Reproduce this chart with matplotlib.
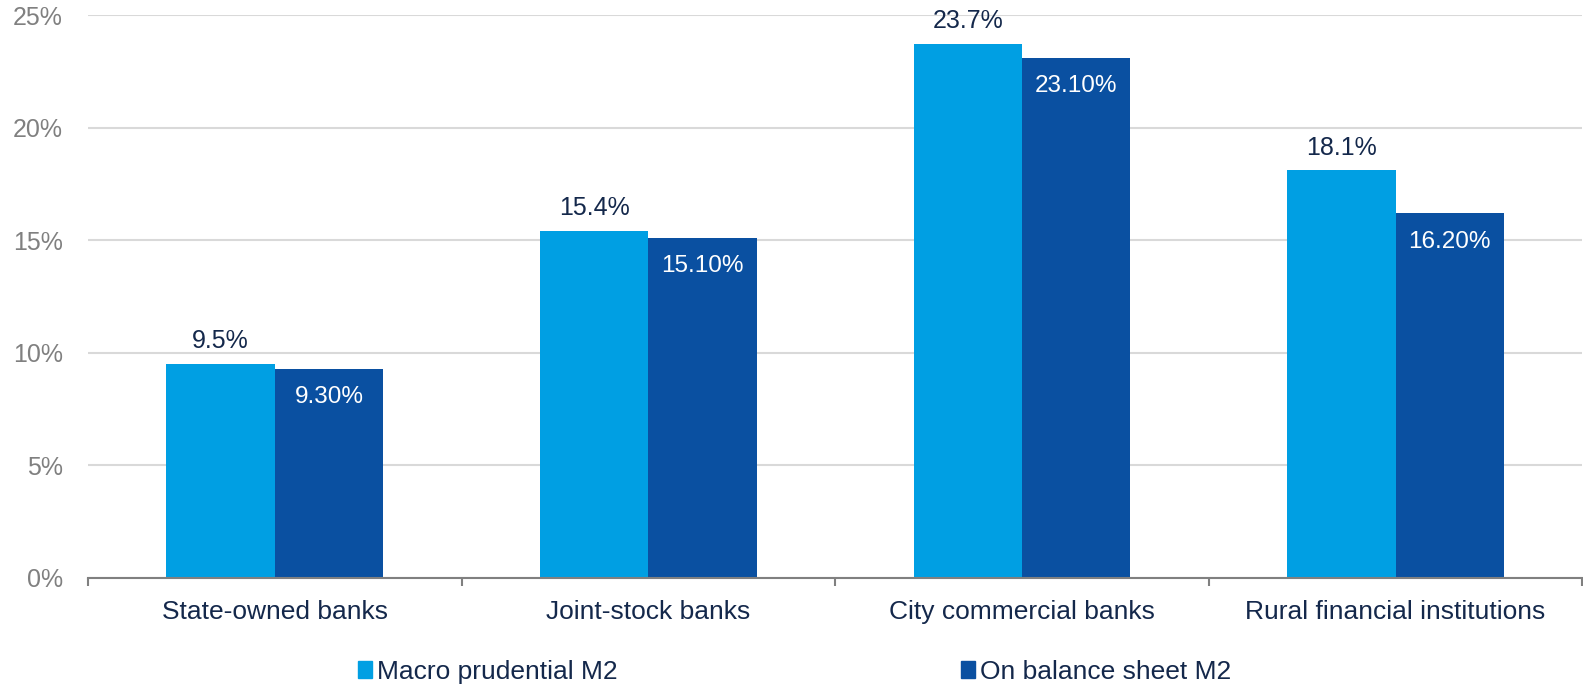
import numpy as np
import matplotlib.pyplot as plt
from matplotlib.patches import Patch

###############################################################################
# datos
###############################################################################
categorias = ["State-owned banks", "Joint-stock banks",
              "City commercial banks", "Rural financial institutions"]
macro = [9.5, 15.4, 23.7, 18.1]
balance = [9.3, 15.1, 23.1, 16.2]
etiq_macro = ["9.5%", "15.4%", "23.7%", "18.1%"]
etiq_balance = ["9.30%", "15.10%", "23.10%", "16.20%"]
yticks = [0, 5, 10, 15, 20, 25]

c_claro = "#009FE3"
c_oscuro = "#0A50A1"
c_texto = "#14284B"
c_gris = "#808080"

plt.rcParams['font.family'] = ['Liberation Sans', 'DejaVu Sans']

###############################################################################
fig = plt.figure(figsize=(15.83, 6.84), dpi=100)
ax = fig.add_axes([0.0556, 0.155, 0.944, 0.823])

x = np.arange(len(categorias))
w = 0.29
b1 = ax.bar(x - w/2, macro, w, color=c_claro, zorder=3)
b2 = ax.bar(x + w/2, balance, w, color=c_oscuro, zorder=3)

# etiquetas de valor
for r, t in zip(b1, etiq_macro):
    ax.annotate(t, (r.get_x() + r.get_width()/2, r.get_height()),
                xytext=(0, 16.5), textcoords="offset points", ha="center",
                va="center", fontsize=18, color=c_texto)
for r, t in zip(b2, etiq_balance):
    ax.annotate(t, (r.get_x() + r.get_width()/2, r.get_height()),
                xytext=(0, -20.5), textcoords="offset points", ha="center",
                va="center", fontsize=17.5, color="white")

ax.set_ylim(0, 25)
ax.set_xlim(-0.5, 3.5)
ax.set_yticks(yticks)
ax.set_yticklabels([f"{v}%" for v in yticks], fontsize=18, color=c_gris)
ax.tick_params(axis="y", length=0, pad=18)
ax.grid(axis="y", color="#D9D9D9", linewidth=1.5, zorder=0)

ax.set_xticks(np.arange(-0.5, 4, 1))
ax.set_xticklabels([])
ax.set_xticks(x, minor=True)
ax.set_xticklabels(categorias, minor=True, fontsize=19, color=c_texto)
ax.tick_params(axis="x", which="major", length=6, color=c_gris, width=1.5)
ax.tick_params(axis="x", which="minor", length=0, pad=16)

for s in ["top", "right", "left"]:
    ax.spines[s].set_visible(False)
ax.spines["bottom"].set_color(c_gris)
ax.spines["bottom"].set_linewidth(1.5)
ax.spines["bottom"].set_zorder(4)

handles = [Patch(color=c_claro), Patch(color=c_oscuro)]
fig.legend(handles, ["Macro prudential M2", "On balance sheet M2"],
           loc="center", bbox_to_anchor=(0.502, 0.018), ncol=2, frameon=False,
           fontsize=19, handlelength=0.53, handleheight=0.65, handletextpad=0.2,
           columnspacing=13, labelcolor=c_texto, borderpad=0)

plt.savefig("out.png", dpi=100)
